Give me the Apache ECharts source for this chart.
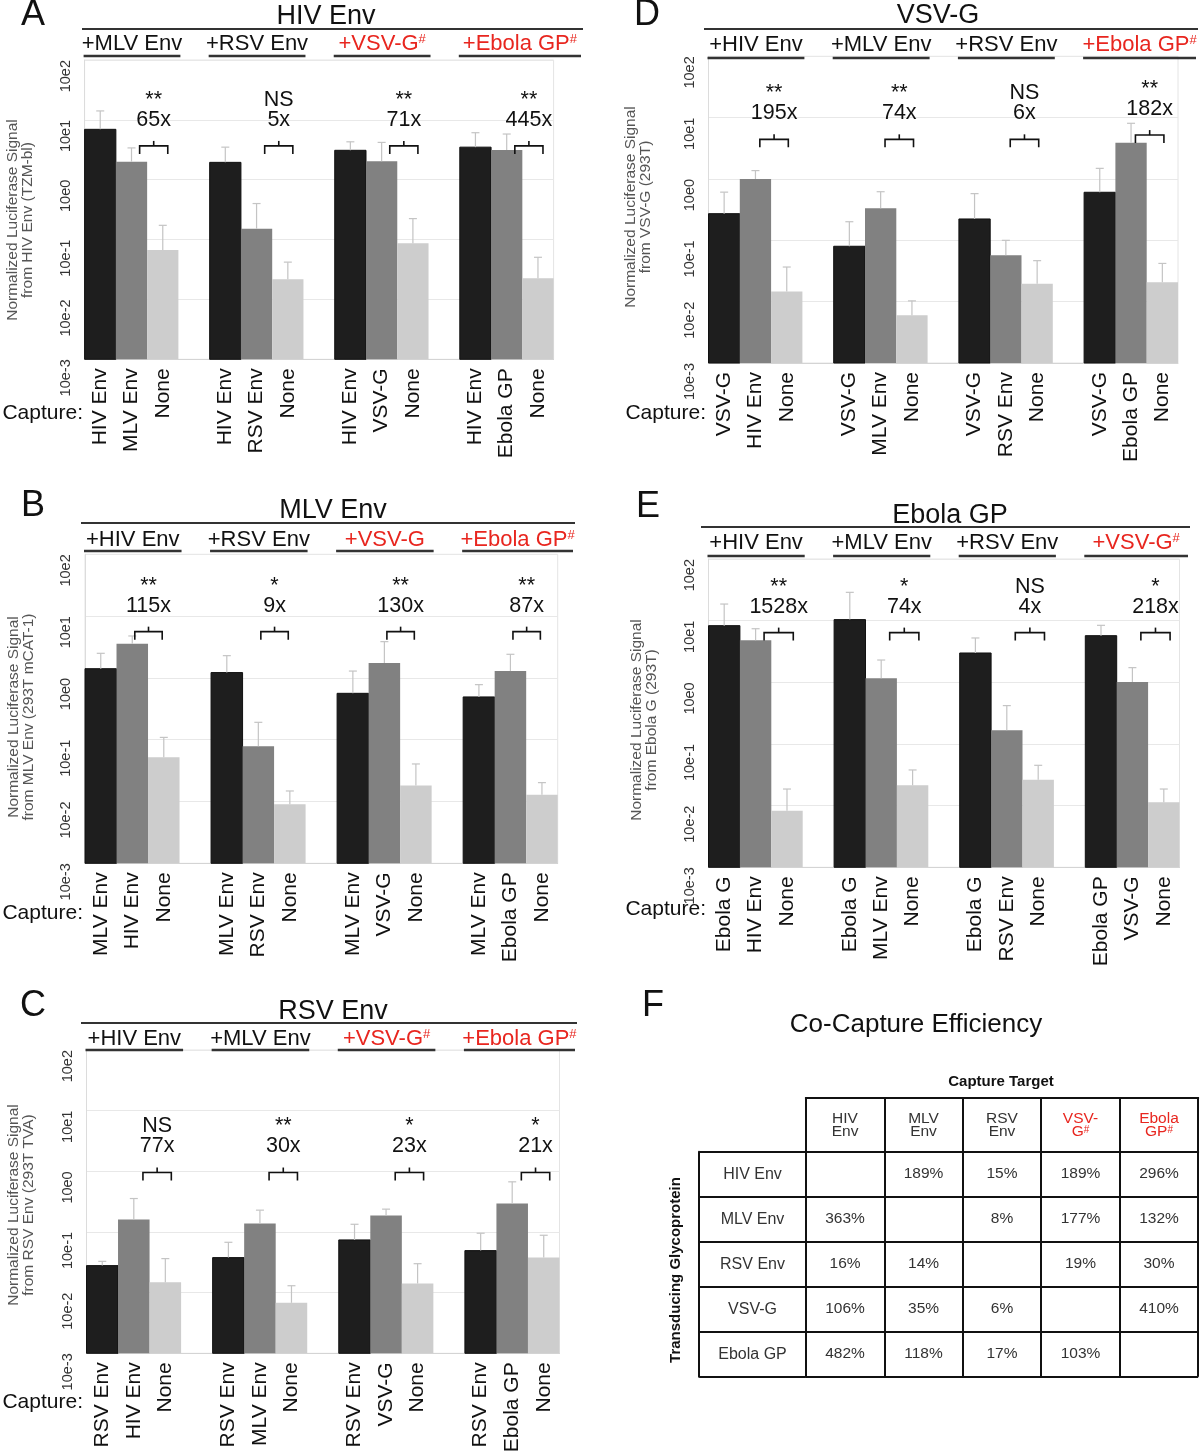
<!DOCTYPE html>
<html><head><meta charset="utf-8">
<script src="https://cdn.jsdelivr.net/npm/echarts@6/dist/echarts.min.js"></script>
<style>html,body{margin:0;padding:0;background:#fff}#c{width:1200px;height:1456px}</style>
</head><body><div id="c"></div>
<script>
// ---------------- DATA ----------------
// Panel A: HIV Env
const A_capture = ['HIV Env','MLV Env','None','HIV Env','RSV Env','None','HIV Env','VSV-G','None','HIV Env','Ebola GP','None'];
const A_mean  = [6.95, 2.0, 0.067, 1.95, 0.152, 0.0217, 3.1, 2.03, 0.087, 3.5, 3.14, 0.0226];
const A_upper = [14.1, 3.4, 0.173, 3.5, 0.40, 0.042, 4.3, 4.2, 0.224, 6.1, 5.8, 0.0506];
const A_groups = ['+MLV Env','+RSV Env','+VSV-G#','+Ebola GP#'];
const A_groupRed = [false,false,true,true];
const A_sig = ['**','NS','**','**'];
const A_fold = ['65x','5x','71x','445x'];
// Panel B: MLV Env
const B_capture = ['MLV Env','HIV Env','None','MLV Env','RSV Env','None','MLV Env','VSV-G','None','MLV Env','Ebola GP','None'];
const B_mean  = [1.41, 3.58, 0.052, 1.22, 0.078, 0.0090, 0.563, 1.75, 0.0181, 0.492, 1.29, 0.0128];
const B_upper = [2.5, 4.77, 0.109, 2.29, 0.191, 0.0148, 1.29, 3.86, 0.0405, 0.778, 2.41, 0.0202];
const B_groups = ['+HIV Env','+RSV Env','+VSV-G','+Ebola GP#'];
const B_groupRed = [false,false,true,true];
const B_sig = ['**','*','**','**'];
const B_fold = ['115x','9x','130x','87x'];
// Panel C: RSV Env
const C_capture = ['RSV Env','HIV Env','None','RSV Env','MLV Env','None','RSV Env','VSV-G','None','RSV Env','Ebola GP','None'];
const C_mean  = [0.0279, 0.160, 0.0148, 0.0378, 0.138, 0.0068, 0.074, 0.187, 0.0141, 0.0493, 0.294, 0.0378];
const C_upper = [0.0328, 0.356, 0.0364, 0.0676, 0.229, 0.013, 0.134, 0.238, 0.030, 0.0953, 0.671, 0.0883];
const C_groups = ['+HIV Env','+MLV Env','+VSV-G#','+Ebola GP#'];
const C_groupRed = [false,false,true,true];
const C_sig = ['NS','**','*','*'];
const C_fold = ['77x','30x','23x','21x'];
// Panel D: VSV-G
const D_capture = ['VSV-G','HIV Env','None','VSV-G','MLV Env','None','VSV-G','RSV Env','None','VSV-G','Ebola GP','None'];
const D_mean  = [0.272, 1.0, 0.0146, 0.080, 0.333, 0.006, 0.223, 0.057, 0.0196, 0.607, 3.91, 0.0207];
const D_upper = [0.61, 1.37, 0.0367, 0.201, 0.62, 0.0103, 0.577, 0.1, 0.0466, 1.49, 8.09, 0.042];
const D_groups = ['+HIV Env','+MLV Env','+RSV Env','+Ebola GP#'];
const D_groupRed = [false,false,false,true];
const D_sig = ['**','**','NS','**'];
const D_fold = ['195x','74x','6x','182x'];
// Panel E: Ebola GP
const E_capture = ['Ebola G','HIV Env','None','Ebola G','MLV Env','None','Ebola G','RSV Env','None','Ebola GP','VSV-G','None'];
const E_mean  = [8.3, 4.8, 0.0083, 10.4, 1.16, 0.0214, 2.99, 0.167, 0.0264, 5.71, 1.01, 0.0113];
const E_upper = [18.6, 7.4, 0.0186, 28.8, 2.3, 0.0379, 5.24, 0.419, 0.0451, 8.4, 1.73, 0.0186];
const E_groups = ['+HIV Env','+MLV Env','+RSV Env','+VSV-G#'];
const E_groupRed = [false,false,false,true];
const E_sig = ['**','*','NS','*'];
const E_fold = ['1528x','74x','4x','218x'];
// Panel F: Co-capture efficiency table
const F_targets = ['HIV Env','MLV Env','RSV Env','VSV-G#','Ebola GP#'];
const F_rows = ['HIV Env','MLV Env','RSV Env','VSV-G','Ebola GP'];
const F_values = [
  ['', '189%', '15%', '189%', '296%'],
  ['363%', '', '8%', '177%', '132%'],
  ['16%', '14%', '', '19%', '30%'],
  ['106%', '35%', '6%', '', '410%'],
  ['482%', '118%', '17%', '103%', '']
];
const Y_TICK_LABELS = ['10e-3','10e-2','10e-1','10e0','10e1','10e2'];

// ---------------- LAYOUT / STYLE ----------------
const FONT = "'Liberation Sans', Arial, Helvetica, sans-serif";
const RED = '#e8261f';
const BAR_COLORS = ['#1e1e1e', '#818181', '#cdcdcd'];

const PANELS = [
  {letter:'A', title:'HIV Env', capture:A_capture, mean:A_mean, upper:A_upper, groups:A_groups, red:A_groupRed, sig:A_sig, fold:A_fold,
   grid:{left:84.6, top:60, width:469, height:299.3}, titlePos:[326,17], letterPos:[33,15], line:{x0:82,x1:583,y:29}, subY:44, underY:56,
   yName:'Normalized Luciferase Signal\nfrom HIV Env (TZM-bl)', namePos:[20,220], capPos:[83,413], bracketY:[3.67,3.67,3.67,3.67], brOff:[0.26,0.16]},
  {letter:'B', title:'MLV Env', capture:B_capture, mean:B_mean, upper:B_upper, groups:B_groups, red:B_groupRed, sig:B_sig, fold:B_fold,
   grid:{left:85, top:554.3, width:472.7, height:309}, titlePos:[333,511], letterPos:[33,506], line:{x0:81,x1:575,y:523}, subY:540, underY:551,
   yName:'Normalized Luciferase Signal\nfrom MLV Env (293T mCAT-1)', namePos:[21,717], capPos:[83,913], bracketY:[5.6,5.6,5.6,5.6], brOff:[0.08,-0.05]},
  {letter:'C', title:'RSV Env', capture:C_capture, mean:C_mean, upper:C_upper, groups:C_groups, red:C_groupRed, sig:C_sig, fold:C_fold,
   grid:{left:86.5, top:1050, width:473, height:303.3}, titlePos:[333,1012], letterPos:[33,1006], line:{x0:81,x1:577,y:1023}, subY:1039, underY:1050,
   yName:'Normalized Luciferase Signal\nfrom RSV Env (293T TVA)', namePos:[21,1205], capPos:[83,1402], bracketY:[0.955,0.955,0.955,0.955], brOff:[0.29,0.19]},
  {letter:'D', title:'VSV-G', capture:D_capture, mean:D_mean, upper:D_upper, groups:D_groups, red:D_groupRed, sig:D_sig, fold:D_fold,
   grid:{left:708.5, top:56.3, width:469.5, height:306.7}, titlePos:[938,16], letterPos:[647,15], line:{x0:704,x1:1198,y:29}, subY:45, underY:58,
   yName:'Normalized Luciferase Signal\nfrom VSV-G (293T)', namePos:[638.5,207], capPos:[706,413], bracketY:[4.43,4.43,4.43,5.2], brOff:[0.14,0.05]},
  {letter:'E', title:'Ebola GP', capture:E_capture, mean:E_mean, upper:E_upper, groups:E_groups, red:E_groupRed, sig:E_sig, fold:E_fold,
   grid:{left:708.5, top:559, width:471, height:308.3}, titlePos:[950,516], letterPos:[648,507], line:{x0:701,x1:1190,y:527}, subY:543, underY:556,
   yName:'Normalized Luciferase Signal\nfrom Ebola G (293T)', namePos:[644,720], capPos:[706,909], bracketY:[6.4,6.4,6.4,6.4], brOff:[0.27,0.2]}
];

function cats15(capture){ const out=[]; capture.forEach((c,i)=>{ out.push(c); if(i%3===2 && i<capture.length-1) out.push(''); }); return out; }
function pos(i){ return Math.floor(i/3)*4 + i%3; }
function supRich(t, size, color){
  const has = t.endsWith('#'); const base = has ? t.slice(0,-1) : t;
  return {text:'{m|'+base+'}'+(has?'{s|#}':''),
    rich:{m:{fontSize:size, fontFamily:FONT, fill:color}, s:{fontSize:Math.round(size*0.6), fontFamily:FONT, fill:color, verticalAlign:'top'}}};
}

const grids=[], xAxes=[], yAxes=[], series=[], graphics=[];
function gtext(x,y,text,size,opts){
  opts = opts||{};
  graphics.push({type:'text', x:x, y:y, rotation:opts.rot||0, silent:true,
    style:{text:text, fontSize:size, fontFamily:FONT, fontWeight:opts.bold?'bold':'normal', fill:opts.color||'#111',
      align:opts.align||'center', verticalAlign:'middle', lineHeight:opts.lh||undefined}});
}
function gline(x0,y0,x1,y1,w,c){
  graphics.push({type:'line', silent:true, shape:{x1:x0,y1:y0,x2:x1,y2:y1}, style:{stroke:c||'#222', lineWidth:w||2}});
}

PANELS.forEach((p, i) => {
  grids.push({left:p.grid.left, top:p.grid.top, width:p.grid.width, height:p.grid.height, show:true, borderColor:'#e4e4e4', borderWidth:1, containLabel:false, outerBoundsMode:'none'});
  xAxes.push({gridIndex:i, type:'category', data:cats15(p.capture),
    axisLine:{show:true, lineStyle:{color:'#d4d4d4'}}, axisTick:{show:false}, splitLine:{show:false},
    axisLabel:{interval:0, rotate:90, margin:9, fontSize:21, color:'#111', fontFamily:FONT}});
  yAxes.push({gridIndex:i, type:'log', logBase:10, min:0.001, max:100,
    axisLine:{show:true, lineStyle:{color:'#dcdcdc'}}, axisTick:{show:false},
    splitLine:{show:true, lineStyle:{color:'#e8e8e8', width:1}},
    axisLabel:{rotate:90, align:'right', verticalAlign:'middle', margin:19, fontSize:14.5, color:'#333', fontFamily:FONT,
      formatter:v=>Y_TICK_LABELS[Math.round(Math.log10(v))+3]}});
  // bars
  series.push({type:'custom', xAxisIndex:i, yAxisIndex:i, clip:false, z:2, silent:true,
    data:p.mean.map((v,k)=>[pos(k), v, k%3]),
    renderItem:(params, api)=>{
      const band = params.coordSys.width/15;
      const top = api.coord([api.value(0), api.value(1)]);
      const base = api.coord([api.value(0), 0.001]);
      return {type:'rect', shape:{x:top[0]-band/2, y:top[1], width:band, height:base[1]-top[1]},
        style:{fill:BAR_COLORS[api.value(2)], stroke:api.value(2)===0?'#111':null, lineWidth:1}};
    }});
  // error bars
  series.push({type:'custom', xAxisIndex:i, yAxisIndex:i, clip:false, z:3, silent:true,
    data:p.mean.map((v,k)=>[pos(k), v, p.upper[k]]),
    renderItem:(params, api)=>{
      const a = api.coord([api.value(0), api.value(1)]);
      const b = api.coord([api.value(0), api.value(2)]);
      return {type:'group', children:[
        {type:'line', shape:{x1:a[0], y1:a[1], x2:b[0], y2:b[1]}, style:{stroke:'#c4c4c4', lineWidth:1.2}},
        {type:'line', shape:{x1:b[0]-4, y1:b[1], x2:b[0]+4, y2:b[1]}, style:{stroke:'#c4c4c4', lineWidth:1.2}}
      ]};
    }});
  // brackets + significance
  series.push({type:'custom', xAxisIndex:i, yAxisIndex:i, clip:false, z:4, silent:true,
    data:p.sig.map((s,g)=>[g*4+1, p.bracketY[g]]),
    renderItem:(params, api)=>{
      const g = params.dataIndex; const band = params.coordSys.width/15;
      const c2 = api.coord([g*4+1, p.bracketY[g]]), c3 = api.coord([g*4+2, p.bracketY[g]]);
      const x0 = c2[0]+p.brOff[0]*band, x1 = c3[0]+p.brOff[1]*band, y = c2[1], xm = (x0+x1)/2;
      const ts = {fontSize:21.5, fontFamily:FONT, fill:'#111', align:'center', verticalAlign:'middle'};
      return {type:'group', children:[
        {type:'polyline', shape:{points:[[x0,y+8],[x0,y],[x1,y],[x1,y+8]]}, style:{stroke:'#111', lineWidth:1.6, fill:'none'}},
        {type:'line', shape:{x1:xm, y1:y, x2:xm, y2:y-5}, style:{stroke:'#111', lineWidth:1.6}},
        {type:'text', x:xm, y:y-26, style:Object.assign({text:p.fold[g]}, ts)},
        {type:'text', x:xm, y:y-46, style:Object.assign({text:p.sig[g]}, ts)}
      ]};
    }});
  // group headers
  series.push({type:'custom', xAxisIndex:i, yAxisIndex:i, clip:false, z:4, silent:true,
    data:p.groups.map((t,g)=>[g*4, 1]),
    renderItem:(params, api)=>{
      const g = params.dataIndex; const band = params.coordSys.width/15;
      const cs = api.coord([g*4, 1]), ce = api.coord([g*4+2, 1]);
      const x0 = cs[0]-band/2-1;
      const x1 = g===p.groups.length-1 ? p.line.x1-2 : ce[0]+band/2+2;
      const st = supRich(p.groups[g], 22, p.red[g] ? RED : '#111');
      return {type:'group', children:[
        {type:'line', shape:{x1:x0, y1:p.underY, x2:x1, y2:p.underY}, style:{stroke:'#333', lineWidth:2.5}},
        {type:'text', x:(x0+x1)/2, y:p.subY, style:Object.assign({align:'center', verticalAlign:'middle'}, st)}
      ]};
    }});
  // static decorations
  gtext(p.letterPos[0], p.letterPos[1], p.letter, 36);
  gtext(p.titlePos[0], p.titlePos[1], p.title, 27);
  gline(p.line.x0, p.line.y, p.line.x1, p.line.y, 2, '#333');
  gtext(p.capPos[0], p.capPos[1], 'Capture:', 21, {align:'right'});
  gtext(p.namePos[0], p.namePos[1], p.yName, 15.5, {rot:Math.PI/2, color:'#555', lh:15});
});

// ---------- Panel F table ----------
const FG = 5;
grids.push({left:805.8, top:1151.7, width:392.4, height:225, show:false, containLabel:false, outerBoundsMode:'none'});
const tblLine = {color:'#111', width:2};
function headerLabel(v){
  const red = v.endsWith('#'); const base = red ? v.slice(0,-1) : v;
  let l1, l2;
  if (base.indexOf(' ')>=0){ const k = base.indexOf(' '); l1 = base.slice(0,k); l2 = base.slice(k+1); }
  else { const k = base.indexOf('-')+1; l1 = base.slice(0,k); l2 = base.slice(k); }
  const s = red ? 'r' : 'n';
  return '{'+s+'|'+l1+'}\n{'+s+'|'+l2+'}'+(red?'{rs|#}':'');
}
xAxes.push({gridIndex:FG, type:'category', data:F_targets, position:'top',
  axisLine:{show:true, lineStyle:tblLine},
  axisTick:{show:true, interval:0, length:54.4, inside:false, alignWithLabel:false, lineStyle:tblLine},
  splitLine:{show:true, interval:0, lineStyle:tblLine},
  axisLabel:{interval:0, margin:13, formatter:headerLabel,
    rich:{n:{color:'#333', fontSize:15.5, lineHeight:13, fontFamily:FONT},
          r:{color:RED, fontSize:15.5, lineHeight:13, fontFamily:FONT},
          rs:{color:RED, fontSize:10, lineHeight:13, fontFamily:FONT, verticalAlign:'top'}}}});
xAxes.push({gridIndex:FG, type:'category', data:F_targets, position:'top', offset:54.4,
  axisLine:{show:true, lineStyle:tblLine}, axisTick:{show:false}, axisLabel:{show:false}, splitLine:{show:false}});
yAxes.push({gridIndex:FG, type:'category', data:F_rows, inverse:true, position:'left',
  axisLine:{show:true, lineStyle:tblLine},
  axisTick:{show:true, interval:0, length:106.6, inside:false, alignWithLabel:false, lineStyle:tblLine},
  splitLine:{show:true, interval:0, lineStyle:tblLine},
  axisLabel:{interval:0, margin:53.3, align:'center', fontSize:16, color:'#333', fontFamily:FONT}});
yAxes.push({gridIndex:FG, type:'category', data:F_rows, inverse:true, position:'left', offset:106.6,
  axisLine:{show:true, lineStyle:tblLine}, axisTick:{show:false}, axisLabel:{show:false}, splitLine:{show:false}});
const F_cells = [], F_cellText = [];
F_values.forEach((row, r) => row.forEach((t, c) => { if (t !== '') { F_cells.push([c, r]); F_cellText.push(t); } }));
series.push({type:'custom', xAxisIndex:5, yAxisIndex:5, clip:false, z:5, silent:true, data:F_cells,
  renderItem:(params, api)=>{
    const pt = api.coord([api.value(0), api.value(1)]);
    return {type:'text', x:pt[0], y:pt[1], style:{text:F_cellText[params.dataIndex], fontSize:15.5, fontFamily:FONT, fill:'#333', align:'center', verticalAlign:'middle'}};
  }});
gtext(653, 1006, 'F', 36);
gtext(916, 1025, 'Co-Capture Efficiency', 26);
gtext(1001, 1082, 'Capture Target', 15, {bold:true});
gtext(676, 1270, 'Transducing Glycoprotein', 15, {bold:true, rot:Math.PI/2});

const chart = echarts.init(document.getElementById('c'), null, {renderer:'canvas'});
chart.setOption({
  animation:false, backgroundColor:'#fff',
  textStyle:{fontFamily:FONT},
  grid:grids, xAxis:xAxes, yAxis:yAxes, series:series, graphic:graphics
});
</script>
</body></html>
